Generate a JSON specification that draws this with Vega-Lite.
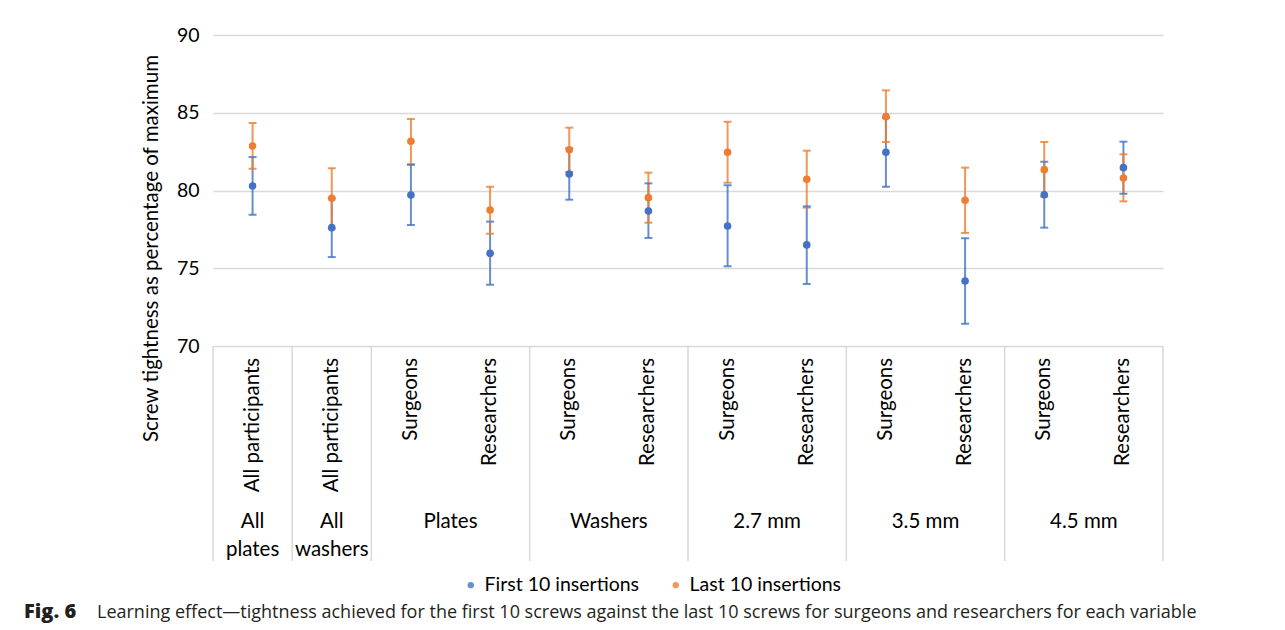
{
  "$schema": "https://vega.github.io/schema/vega-lite/v6.json",
  "background": "white",
  "padding": {"left": 24, "top": 25, "right": 10, "bottom": 5},
  "bounds": "flush",
  "config": {
    "font": "Lato",
    "view": {"stroke": null},
    "text": {"color": "#000000"},
    "title": {"orient": "bottom", "anchor": "start", "frame": "group", "font": "Open Sans", "fontSize": 18, "color": "#231f20"}
  },
  "datasets": {
    "pts": [
      {"key": "k01", "group": "All\nplates", "sub": "All participants", "series": "First 10 insertions", "y": 80.29, "lo": 78.44, "hi": 82.15},
      {"key": "k02", "group": "All\nwashers", "sub": "All participants", "series": "First 10 insertions", "y": 77.61, "lo": 75.72, "hi": 79.50},
      {"key": "k03", "group": "Plates", "sub": "Surgeons", "series": "First 10 insertions", "y": 79.71, "lo": 77.78, "hi": 81.66},
      {"key": "k04", "group": "Plates", "sub": "Researchers", "series": "First 10 insertions", "y": 75.96, "lo": 73.94, "hi": 78.00},
      {"key": "k05", "group": "Washers", "sub": "Surgeons", "series": "First 10 insertions", "y": 81.06, "lo": 79.41, "hi": 82.71},
      {"key": "k06", "group": "Washers", "sub": "Researchers", "series": "First 10 insertions", "y": 78.68, "lo": 76.95, "hi": 80.46},
      {"key": "k07", "group": "2.7 mm", "sub": "Surgeons", "series": "First 10 insertions", "y": 77.72, "lo": 75.13, "hi": 80.33},
      {"key": "k08", "group": "2.7 mm", "sub": "Researchers", "series": "First 10 insertions", "y": 76.50, "lo": 73.99, "hi": 78.98},
      {"key": "k09", "group": "3.5 mm", "sub": "Surgeons", "series": "First 10 insertions", "y": 82.46, "lo": 80.24, "hi": 84.68},
      {"key": "k10", "group": "3.5 mm", "sub": "Researchers", "series": "First 10 insertions", "y": 74.18, "lo": 71.43, "hi": 76.93},
      {"key": "k11", "group": "4.5 mm", "sub": "Surgeons", "series": "First 10 insertions", "y": 79.73, "lo": 77.61, "hi": 81.85},
      {"key": "k12", "group": "4.5 mm", "sub": "Researchers", "series": "First 10 insertions", "y": 81.47, "lo": 79.79, "hi": 83.14},
      {"key": "k01", "group": "All\nplates", "sub": "All participants", "series": "Last 10 insertions", "y": 82.86, "lo": 81.40, "hi": 84.34},
      {"key": "k02", "group": "All\nwashers", "sub": "All participants", "series": "Last 10 insertions", "y": 79.50, "lo": 77.57, "hi": 81.43},
      {"key": "k03", "group": "Plates", "sub": "Surgeons", "series": "Last 10 insertions", "y": 83.16, "lo": 81.68, "hi": 84.60},
      {"key": "k04", "group": "Plates", "sub": "Researchers", "series": "Last 10 insertions", "y": 78.75, "lo": 77.22, "hi": 80.24},
      {"key": "k05", "group": "Washers", "sub": "Surgeons", "series": "Last 10 insertions", "y": 82.62, "lo": 81.19, "hi": 84.04},
      {"key": "k06", "group": "Washers", "sub": "Researchers", "series": "Last 10 insertions", "y": 79.54, "lo": 77.93, "hi": 81.15},
      {"key": "k07", "group": "2.7 mm", "sub": "Surgeons", "series": "Last 10 insertions", "y": 82.46, "lo": 80.50, "hi": 84.42},
      {"key": "k08", "group": "2.7 mm", "sub": "Researchers", "series": "Last 10 insertions", "y": 80.72, "lo": 78.90, "hi": 82.56},
      {"key": "k09", "group": "3.5 mm", "sub": "Surgeons", "series": "Last 10 insertions", "y": 84.75, "lo": 83.12, "hi": 86.44},
      {"key": "k10", "group": "3.5 mm", "sub": "Researchers", "series": "Last 10 insertions", "y": 79.37, "lo": 77.27, "hi": 81.47},
      {"key": "k11", "group": "4.5 mm", "sub": "Surgeons", "series": "Last 10 insertions", "y": 81.34, "lo": 79.60, "hi": 83.12},
      {"key": "k12", "group": "4.5 mm", "sub": "Researchers", "series": "Last 10 insertions", "y": 80.80, "lo": 79.30, "hi": 82.33}
    ]
  },
  "spacing": 0,
  "vconcat": [
    {
      "width": 950,
      "height": 311,
      "title": {"text": "Fig. 6", "fontWeight": 800, "fontSize": 20, "dx": -189, "offset": 160},
      "data": {"name": "pts"},
      "encoding": {
        "x": {
          "field": "key", "type": "nominal",
          "scale": {"type": "band", "paddingInner": 0, "paddingOuter": 0,
                    "domain": ["k01","k02","k03","k04","k05","k06","k07","k08","k09","k10","k11","k12"]},
          "axis": null
        },
        "color": {
          "field": "series", "type": "nominal",
          "scale": {"domain": ["First 10 insertions", "Last 10 insertions"], "range": ["#4472C4", "#ED7D31"]},
          "legend": {
            "orient": "none", "legendX": 248, "legendY": 540,
            "direction": "horizontal", "title": null,
            "symbolType": "circle", "symbolSize": 40, "symbolStrokeWidth": 0,
            "labelFontSize": 19.5, "labelColor": "#000000", "labelLimit": 0,
            "columnPadding": 26, "labelOffset": 4
          }
        }
      },
      "layer": [
        {
          "mark": {"type": "rule", "strokeWidth": 2, "opacity": 0.8},
          "encoding": {
            "y": {
              "field": "lo", "type": "quantitative",
              "scale": {"domain": [70, 90], "nice": false, "zero": false},
              "axis": {
                "values": [70, 75, 80, 85, 90],
                "grid": true, "gridColor": "#d9d9d9", "gridWidth": 1.5,
                "domain": false, "ticks": false,
                "labelFontSize": 19.5, "labelPadding": 14, "labelColor": "#000000",
                "title": "Screw tightness as percentage of maximum",
                "titleFontSize": 20.5, "titleFontWeight": "normal", "titleColor": "#000000",
                "titlePadding": 15, "titleY": 213
              }
            },
            "y2": {"field": "hi"}
          }
        },
        {
          "mark": {"type": "tick", "orient": "horizontal", "size": 8, "thickness": 2, "opacity": 0.8},
          "encoding": {"y": {"field": "lo", "type": "quantitative"}}
        },
        {
          "mark": {"type": "tick", "orient": "horizontal", "size": 8, "thickness": 2, "opacity": 0.8},
          "encoding": {"y": {"field": "hi", "type": "quantitative"}}
        },
        {
          "mark": {"type": "point", "filled": true, "size": 58, "opacity": 1},
          "encoding": {"y": {"field": "y", "type": "quantitative"}}
        }
      ]
    },
    {
      "width": 950,
      "height": 215,
      "title": {"text": "Learning effect—tightness achieved for the first 10 screws against the last 10 screws for surgeons and researchers for each variable", "fontWeight": "normal", "dx": -116, "offset": 42},
      "data": {"name": "pts"},
      "transform": [{"filter": "datum.series == 'First 10 insertions'"}],
      "encoding": {
        "x": {
          "field": "key", "type": "nominal",
          "scale": {"type": "band", "paddingInner": 0, "paddingOuter": 0,
                    "domain": ["k01","k02","k03","k04","k05","k06","k07","k08","k09","k10","k11","k12"]},
          "axis": null
        }
      },
      "layer": [
        {
          "transform": [{"filter": "datum.sub != 'Researchers'"}],
          "mark": {"type": "rule", "color": "#d9d9d9", "strokeWidth": 1.5},
          "encoding": {"x": {"field": "key", "type": "nominal", "bandPosition": 0}}
        },
        {
          "transform": [{"filter": "datum.key == 'k12'"}],
          "mark": {"type": "rule", "color": "#d9d9d9", "strokeWidth": 1.5},
          "encoding": {"x": {"field": "key", "type": "nominal", "bandPosition": 1}}
        },
        {
          "mark": {"type": "text", "angle": 270, "align": "right", "baseline": "middle", "fontSize": 20.5, "color": "#000000"},
          "encoding": {
            "text": {"field": "sub"},
            "y": {"datum": "sub", "type": "nominal", "bandPosition": 0.11,
                  "scale": {"type": "band", "domain": ["sub", "grp"], "paddingInner": 0, "paddingOuter": 0},
                  "axis": null}
          }
        },
        {
          "transform": [{"filter": "datum.sub == 'Surgeons'"}],
          "mark": {"type": "text", "align": "center", "baseline": "top", "fontSize": 20.5, "lineBreak": "\n", "lineHeight": 28, "color": "#000000"},
          "encoding": {
            "x": {"field": "key", "type": "nominal", "bandPosition": 1},
            "text": {"field": "group"},
            "y": {"datum": "grp", "type": "nominal", "bandPosition": 0.54}
          }
        },
        {
          "transform": [{"filter": "datum.sub == 'All participants'"}],
          "mark": {"type": "text", "align": "center", "baseline": "top", "fontSize": 20.5, "lineBreak": "\n", "lineHeight": 28, "color": "#000000"},
          "encoding": {
            "x": {"field": "key", "type": "nominal", "bandPosition": 0.5},
            "text": {"field": "group"},
            "y": {"datum": "grp", "type": "nominal", "bandPosition": 0.54}
          }
        }
      ]
    }
  ]
}
